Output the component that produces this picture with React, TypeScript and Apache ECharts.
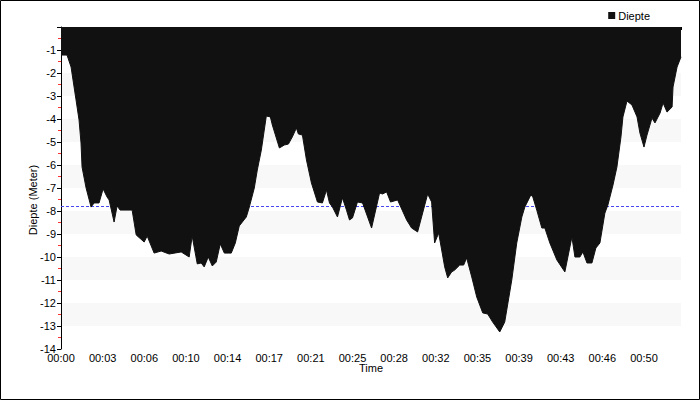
import { useEffect, useRef } from "react";
import * as echarts from "echarts";

// Dive time (minutes) and depth (metres, negative = below surface)
const TIME_MIN = [
  0, 0.52, 0.87, 1.3, 1.56, 1.73, 1.82, 2.17, 2.6, 2.86, 3.29, 3.64, 3.98, 4.16, 4.59, 4.85, 5.11, 6.15, 6.5, 7.19,
  7.45, 8.05, 8.66, 9.35, 10.39, 11.08, 11.34, 11.78, 12.12, 12.38, 12.73, 13.08, 13.42, 13.77, 14.12, 14.72, 15.07, 15.41, 16.02, 16.28,
  16.71, 16.97, 17.32, 17.75, 18.1, 18.27, 18.88, 19.31, 19.66, 20.0, 20.35, 20.52, 20.87, 21.22, 21.65, 22.17, 22.6, 22.95, 23.21, 23.47,
  23.9, 24.33, 24.68, 24.94, 25.2, 25.63, 26.07, 26.85, 27.54, 27.8, 28.15, 28.49, 29.1, 29.88, 30.31, 30.83, 31.7, 32.04, 32.3, 32.65,
  33.17, 33.43, 33.77, 34.03, 34.47, 34.81, 35.07, 35.51, 35.94, 36.46, 36.89, 37.32, 37.93, 38.36, 38.97, 39.4, 39.84, 40.1, 40.62, 40.79,
  41.13, 41.57, 41.83, 42.26, 42.87, 43.56, 43.82, 44.17, 44.43, 44.86, 45.12, 45.47, 45.9, 46.24, 46.59, 47.02, 47.28, 47.72, 48.06, 48.41,
  48.58, 48.93, 49.36, 49.8, 50.05, 50.4, 50.66, 51.09, 51.35, 51.79, 52.05, 52.39, 52.83, 52.91, 53.26, 53.6,
];
const DEPTH_M = [
  -1.22, -1.22, -1.74, -3.17, -4.04, -5.04, -6.09, -7.0, -7.83, -7.65, -7.65, -7.04, -7.39, -7.52, -8.48, -7.78, -7.96, -7.96, -9.04, -9.35,
  -9.09, -9.83, -9.74, -9.87, -9.78, -10.0, -9.09, -10.3, -10.26, -10.43, -10.0, -10.39, -10.22, -9.43, -9.83, -9.83, -9.39, -8.65, -8.26, -7.83,
  -7.0, -6.22, -5.35, -3.87, -3.91, -4.26, -5.26, -5.13, -5.09, -4.78, -4.39, -4.65, -4.7, -5.78, -6.78, -7.61, -7.65, -7.09, -7.65, -7.83,
  -8.26, -7.43, -7.96, -8.39, -8.3, -7.61, -7.65, -8.74, -7.22, -7.26, -7.17, -7.61, -7.52, -8.39, -8.74, -8.91, -7.26, -7.61, -9.39, -8.96,
  -10.43, -10.91, -10.65, -10.57, -10.35, -10.35, -10.04, -10.87, -11.74, -12.43, -12.48, -12.83, -13.26, -12.83, -11.0, -9.39, -8.26, -7.83, -7.3, -7.39,
  -7.96, -8.74, -8.74, -9.39, -10.13, -10.65, -10.0, -9.13, -10.0, -10.0, -9.78, -10.26, -10.26, -9.61, -9.39, -8.09, -7.74, -6.87, -6.09, -4.78,
  -3.91, -3.22, -3.39, -3.91, -4.61, -5.22, -4.7, -3.96, -4.17, -3.74, -3.3, -3.7, -3.48, -2.61, -1.74, -1.3,
];
const X_TICK_LABELS = [
  "00:00", "00:03", "00:06", "00:10", "00:14", "00:17", "00:21", "00:25",
  "00:28", "00:32", "00:35", "00:39", "00:43", "00:46", "00:50",
];
const X_TICK_STEP = 3.6;
const X_MAX = 53.6;
const Y_MIN = -14;
const Y_MAX = 0;
const AVG_DEPTH = -7.8;
const SERIES_NAME = "Diepte";
const X_NAME = "Time";
const Y_NAME = "Diepte (Meter)";

const FONT = '"Liberation Sans", Arial, sans-serif';

export default function App() {
  const ref = useRef<HTMLDivElement>(null);

  useEffect(() => {
    const chart = echarts.init(ref.current!, null, { renderer: "svg" });
    const data = TIME_MIN.map((t, i) => [t, DEPTH_M[i]]);
    chart.setOption({
      animation: false,
      backgroundColor: "#ffffff",
      textStyle: { fontFamily: FONT, fontSize: 11, color: "#000" },
      grid: { left: 61, right: 19, top: 27, bottom: 51, containLabel: false },
      legend: {
        right: 45,
        top: 5,
        icon: "rect",
        itemWidth: 7,
        itemHeight: 7,
        textStyle: { fontFamily: FONT, fontSize: 11, color: "#000", padding: [0, 0, 0, -2] },
        data: [{ name: SERIES_NAME, itemStyle: { color: "#111111" } }],
      },
      xAxis: {
        type: "value",
        min: 0,
        max: X_MAX,
        interval: X_TICK_STEP,
        name: X_NAME,
        nameLocation: "middle",
        nameGap: 13,
        nameMoveOverlap: false,
        nameTextStyle: { fontFamily: FONT, fontSize: 11, color: "#000" },
        axisLine: { show: true, lineStyle: { color: "#000", width: 1 } },
        axisTick: { show: true, length: 3, lineStyle: { color: "#000" } },
        minorTick: { show: true, splitNumber: 10, length: 2, lineStyle: { color: "#c8c8c8" } },
        axisLabel: {
          margin: 3,
          fontFamily: FONT,
          fontSize: 11,
          color: "#000",
          showMaxLabel: false,
          formatter: (v: number) => {
            const i = Math.round(v / X_TICK_STEP);
            return Math.abs(i * X_TICK_STEP - v) < 0.01 && X_TICK_LABELS[i] ? X_TICK_LABELS[i] : "";
          },
        },
        splitLine: { show: false },
      },
      yAxis: {
        type: "value",
        min: Y_MIN,
        max: Y_MAX,
        interval: 1,
        axisLine: { show: true, lineStyle: { color: "#000", width: 1 } },
        axisTick: { show: true, length: 4, lineStyle: { color: "#000" } },
        minorTick: { show: true, splitNumber: 2, length: 3, lineStyle: { color: "#ff3030" } },
        axisLabel: {
          margin: 5,
          fontFamily: FONT,
          fontSize: 11,
          color: "#000",
          formatter: (v: number) => (v === 0 ? "" : String(v)),
        },
        splitLine: { show: false },
        splitArea: { show: true, areaStyle: { color: ["#ffffff", "#f8f8f8"] } },
      },
      graphic: [
        {
          type: "text",
          x: 33,
          y: 200,
          rotation: Math.PI / 2,
          silent: true,
          style: {
            text: Y_NAME,
            fontFamily: FONT,
            fontSize: 11,
            fill: "#000",
            align: "center",
            verticalAlign: "middle",
          },
        },
        {
          type: "rect",
          silent: true,
          z: 100,
          shape: { x: 0.5, y: 0.5, width: 699, height: 399 },
          style: { fill: "none", stroke: "#000", lineWidth: 1 },
        },
      ],
      series: [
        {
          type: "line",
          name: SERIES_NAME,
          data,
          symbol: "none",
          z: 2,
          lineStyle: { color: "#111111", width: 1 },
          itemStyle: { color: "#111111" },
          areaStyle: { color: "#111111", opacity: 1, origin: "end" },
          markLine: {
            silent: true,
            z: 1,
            symbol: "none",
            label: { show: false },
            lineStyle: { color: "#4848f0", type: [3, 2], width: 1 },
            data: [{ yAxis: AVG_DEPTH }],
          },
        },
      ],
    });
    return () => chart.dispose();
  }, []);

  return (
    <div
      ref={ref}
      style={{ position: "fixed", left: 0, top: 0, width: 700, height: 400 }}
    />
  );
}
